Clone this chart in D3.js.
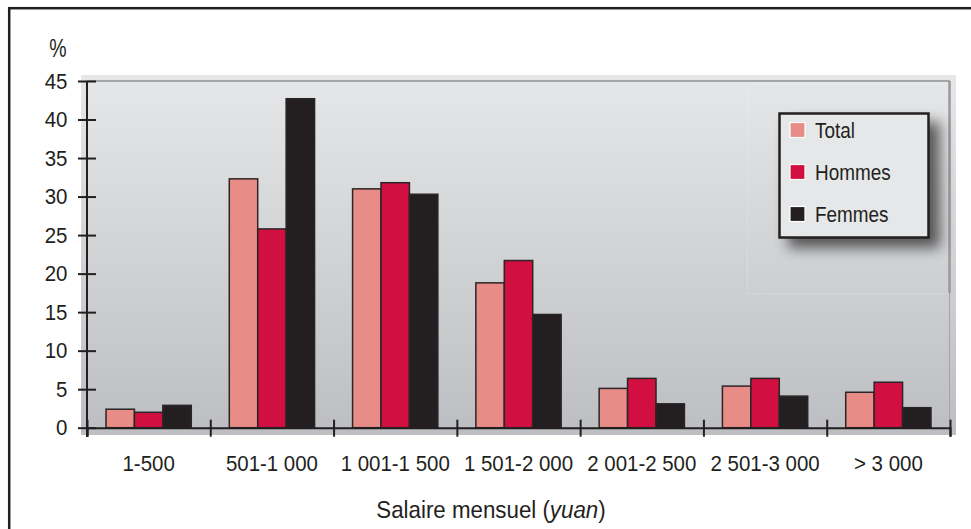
<!DOCTYPE html>
<html><head><meta charset="utf-8">
<script src="https://cdn.jsdelivr.net/npm/d3@7"></script>
<style>
html,body{margin:0;padding:0;background:#fff;}
svg{display:block;font-family:"Liberation Sans",Arial,sans-serif;}
</style></head>
<body>
<svg id="chart" width="971" height="529"></svg>
<script>
const categories = ["1-500","501-1 000","1 001-1 500","1 501-2 000","2 001-2 500","2 501-3 000","> 3 000"];
const seriesNames = ["Total","Hommes","Femmes"];
const totalValues  = [2.4, 32.3, 31.0, 18.8, 5.1, 5.4, 4.6];
const hommesValues = [2.0, 25.8, 31.8, 21.7, 6.4, 6.4, 5.9];
const femmesValues = [2.9, 42.7, 30.3, 14.7, 3.1, 4.1, 2.6];
const yTicks = [0,5,10,15,20,25,30,35,40,45];
const colors = ["#e78c86","#d10f40","#231f20"];

const seriesValues = [totalValues, hommesValues, femmesValues];
const svg = d3.select("#chart");
const defs = svg.append("defs");
const grad = defs.append("linearGradient").attr("id","bg").attr("x1",0).attr("x2",0).attr("y1",0).attr("y2",1);
grad.append("stop").attr("offset","0%").attr("stop-color","#e6e7e8");
grad.append("stop").attr("offset","100%").attr("stop-color","#bdbec1");
const sh = defs.append("filter").attr("id","shadow").attr("x","-30%").attr("y","-30%").attr("width","160%").attr("height","160%");
sh.append("feGaussianBlur").attr("stdDeviation",7);

const L = 87, R = 950, T = 81, B = 427.7;
const txt = "#231f20";

// outer frame
svg.append("rect").attr("x",9.2).attr("y",8.2).attr("width",980).attr("height",540)
  .attr("fill","none").attr("stroke",txt).attr("stroke-width",2.5);

// panel
svg.append("rect").attr("x",81).attr("y",75).attr("width",875).attr("height",360).attr("fill","url(#bg)");
// faint legend region
svg.append("rect").attr("x",747.5).attr("y",83.5).attr("width",201).attr("height",210)
  .attr("fill","none").attr("stroke","#ffffff").attr("stroke-opacity",0.18);

const y = d3.scaleLinear().domain([0,45]).range([B,T]);
const x0 = d3.scaleBand().domain(categories).range([L,R]).padding(0);
const x1 = d3.scaleBand().domain(seriesNames).range([19, x0.bandwidth()-19]).padding(0);
const xb = d3.scaleLinear().domain([0,categories.length]).range([L,R]);

// top line and right border
svg.append("line").attr("x1",L).attr("x2",R).attr("y1",y(45)).attr("y2",y(45)).attr("stroke","#8e8f92").attr("stroke-width",1.5);
svg.append("line").attr("x1",949.5).attr("x2",949.5).attr("y1",T).attr("y2",293).attr("stroke","#98999c").attr("stroke-width",2.5);
svg.append("line").attr("x1",949.5).attr("x2",949.5).attr("y1",293).attr("y2",B).attr("stroke","#a3a4a7").attr("stroke-width",1);

// bars
const g = svg.append("g");
categories.forEach((c,i)=>{
  seriesNames.forEach((s,j)=>{
    g.append("rect")
      .attr("x", x0(c)+x1(s))
      .attr("y", y(seriesValues[j][i]))
      .attr("width", x1.bandwidth())
      .attr("height", y(0)-y(seriesValues[j][i]))
      .attr("fill", colors[j]).attr("stroke","#2a2627").attr("stroke-width",1.5);
  });
});

// y axis
const ya = svg.append("g").attr("transform",`translate(${L},0)`)
  .call(d3.axisLeft(y).tickValues(yTicks).tickSize(9).tickPadding(12).tickFormat(d3.format("d")));
ya.select(".domain").remove();
ya.selectAll(".tick line").attr("x1",9).attr("stroke",txt).attr("stroke-width",2);
ya.selectAll(".tick text").attr("font-size",22).attr("fill",txt)
  .attr("font-family","'Liberation Sans',Arial,sans-serif").attr("transform","scale(0.93,1)");
svg.append("line").attr("x1",L).attr("x2",L).attr("y1",T).attr("y2",B+9).attr("stroke",txt).attr("stroke-width",2);

// x axis boundaries
const xa = svg.append("g").attr("transform",`translate(0,${B})`)
  .call(d3.axisBottom(xb).tickValues(d3.range(categories.length+1)).tickSize(9).tickFormat(""));
xa.select(".domain").attr("stroke",txt).attr("stroke-width",2);
xa.selectAll(".tick line").attr("y1",-8).attr("stroke",txt).attr("stroke-width",2);

// x labels
const xl = svg.append("g").attr("transform",`translate(0,${B})`)
  .call(d3.axisBottom(x0).tickSize(0).tickPadding(28));
xl.select(".domain").remove();
xl.selectAll(".tick text").attr("font-size",22).attr("fill",txt)
  .attr("font-family","'Liberation Sans',Arial,sans-serif").attr("transform","scale(0.93,1)");

// "%" label
svg.append("text").attr("x",58).attr("y",57).attr("text-anchor","middle")
  .attr("font-size",25).attr("fill",txt).attr("transform","translate(58,57) scale(0.78,1) translate(-58,-57)").text("%");

// axis title
const tt = svg.append("text").attr("x",491).attr("y",518).attr("text-anchor","middle")
  .attr("font-size",24).attr("fill",txt)
  .attr("transform","translate(491,0) scale(0.93,1) translate(-491,0)");
tt.append("tspan").text("Salaire mensuel (");
tt.append("tspan").attr("font-style","italic").text("yuan");
tt.append("tspan").text(")");

// legend
const lg = svg.append("g");
lg.append("rect").attr("x",788).attr("y",122).attr("width",152).attr("height",126)
  .attr("fill","#000").attr("opacity",0.6).attr("filter","url(#shadow)");
lg.append("rect").attr("x",779.5).attr("y",113.5).attr("width",149).attr("height",124)
  .attr("fill","#e6e7e8").attr("stroke",txt).attr("stroke-width",2.5);
const ly = [130, 172, 214];
seriesNames.forEach((s,j)=>{
  lg.append("rect").attr("x",790).attr("y",ly[j]-7.5).attr("width",15).attr("height",15)
    .attr("fill",colors[j]).attr("stroke","#ffffff").attr("stroke-width",1.2);
  lg.append("text").attr("x",815).attr("y",ly[j]+8)
    .attr("font-size",22).attr("fill",txt)
    .attr("transform",`translate(815,0) scale(0.86,1) translate(-815,0)`).text(s);
});
</script>
</body></html>
